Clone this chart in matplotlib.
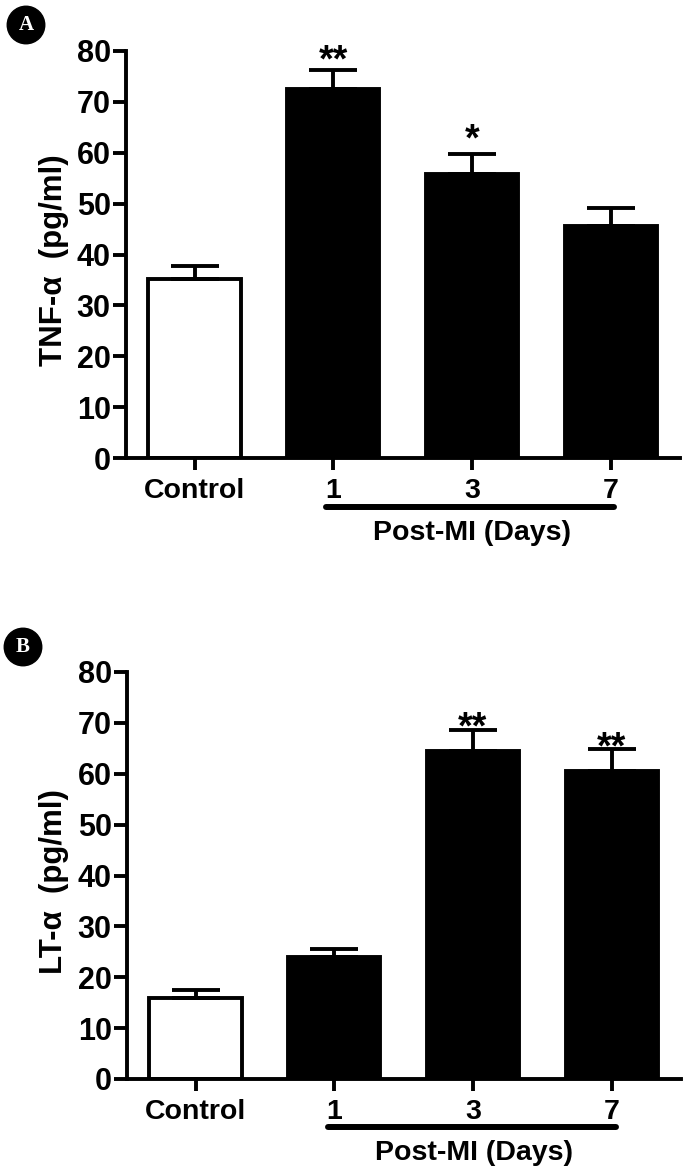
import matplotlib
matplotlib.use('Agg')
import matplotlib.pyplot as plt

W, H = 690.0, 1176.0

categories = ['Control', '1', '3', '7']
tnf_values = [35.1, 72.5, 55.9, 45.7]
tnf_errors = [2.6, 3.7, 3.8, 3.5]
tnf_stars = ['', '**', '*', '']
tnf_star_y = [0, 79.2, 63.5, 0]
lt_values = [15.9, 24.0, 64.5, 60.5]
lt_errors = [1.5, 1.5, 4.1, 4.3]
lt_stars = ['', '', '**', '**']
lt_star_y = [0, 0, 70.1, 66.2]
yticks = [0, 10, 20, 30, 40, 50, 60, 70, 80]

plt.rcParams['font.family'] = ['Liberation Sans', 'DejaVu Sans']
plt.rcParams['font.weight'] = 'bold'

fig = plt.figure(figsize=(W / 100, H / 100), dpi=100)


def panel(box, values, errors, stars, star_y, ylabel, label_y, letter, letter_xy, line_x, line_y, post_x, post_y):
    left, top, right, bottom = box
    ax = fig.add_axes([left / W, 1 - bottom / H, (right - left) / W, (bottom - top) / H])
    colors = ['white', 'black', 'black', 'black']
    x = range(4)
    ax.bar(x, values, width=0.665, color=colors, edgecolor='black', linewidth=2.8)
    ax.errorbar(x, values, yerr=[[0] * 4, errors], fmt='none', ecolor='black',
                elinewidth=2.8, capsize=17, capthick=2.8)
    for i in x:
        if stars[i]:
            # star_y is the middle of the glyph, the text sits on its baseline
            ax.annotate(stars[i], (i, star_y[i]), xytext=(0, -11.5), textcoords='offset points',
                        ha='center', va='baseline', fontsize=27)
    ax.set_xlim(-0.494, 3.50)
    ax.set_ylim(0, 80)
    ax.set_yticks(yticks)
    ax.set_xticks(list(x))
    ax.set_xticklabels(categories)
    ax.tick_params(axis='y', width=2.8, length=9.5, labelsize=22, pad=1.5)
    ax.tick_params(axis='x', width=2.8, length=8.5, labelsize=20.5, pad=6)
    for s in ['top', 'right']:
        ax.spines[s].set_visible(False)
    for s in ['left', 'bottom']:
        ax.spines[s].set_linewidth(2.8)
    fig.text(54 / W, 1 - label_y / H, ylabel, rotation=90, ha='center',
             va='center', fontsize=22.5)
    # underline and caption for the post-MI days
    fig.add_artist(plt.Line2D([line_x[0] / W, line_x[1] / W], [1 - line_y / H] * 2,
                              color='black', lw=4.3, solid_capstyle='round'))
    fig.text(post_x / W, 1 - post_y / H, 'Post-MI (Days)', ha='center', va='center', fontsize=20.5)
    # round panel letter
    fig.text(letter_xy[0] / W, 1 - letter_xy[1] / H, letter, ha='center', va='center',
             color='white', fontsize=15, family='Liberation Serif',
             bbox=dict(boxstyle='circle,pad=0.42', fc='black', ec='black'))


panel((126, 51, 680, 458), tnf_values, tnf_errors, tnf_stars, tnf_star_y, 'TNF-\u03b1  (pg/ml)', 260, 'A',
      (26, 25), (326, 614), 507, 472, 533)
panel((127, 672, 681, 1079), lt_values, lt_errors, lt_stars, lt_star_y, 'LT-\u03b1  (pg/ml)', 882, 'B',
      (23, 647), (328, 616), 1127, 474, 1153)

plt.savefig('out.png', dpi=100)
